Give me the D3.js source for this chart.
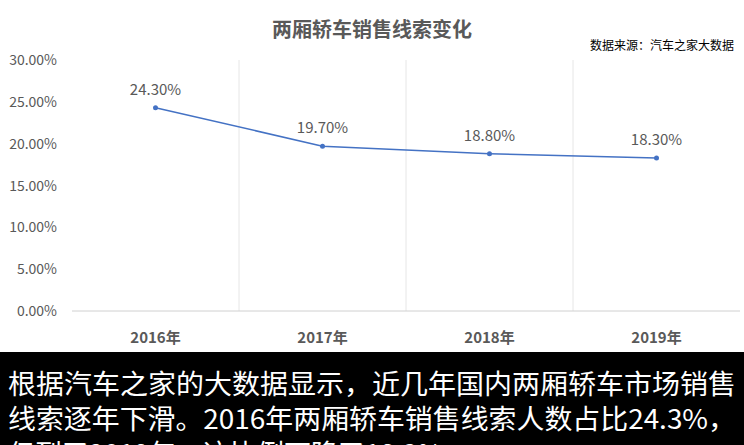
<!DOCTYPE html><html><head><meta charset="utf-8"><script src="https://cdn.jsdelivr.net/npm/d3@7"></script>
<style>body{margin:0;background:#fff;font-family:"Noto Sans CJK SC","Noto Sans",sans-serif}</style></head><body><svg id="c" width="744" height="445"></svg><script>
const categories=["2016年","2017年","2018年","2019年"];
const values=[24.3,19.7,18.8,18.3];
const yTicks=[0,5,10,15,20,25,30];
const captionLines=["根据汽车之家的大数据显示，近几年国内两厢轿车市场销售","线索逐年下滑。2016年两厢轿车销售线索人数占比24.3%，","但到了2019年，这比例下降了18.3%"];
const svg=d3.select("#c");
const x=d3.scaleBand().domain(categories).range([72,740]);
const y=d3.scaleLinear().domain([0,30]).range([311,60]);
const f="'Noto Sans CJK SC',sans-serif";
svg.append("text").attr("x",372).attr("y",37).attr("text-anchor","middle").attr("font-family",f).attr("font-weight","bold").attr("font-size",20).attr("fill","#595959").text("两厢轿车销售线索变化");
svg.append("text").attr("x",734).attr("y",50).attr("text-anchor","end").attr("font-family",f).attr("font-size",12).attr("fill","#000").text("数据来源：汽车之家大数据");
categories.slice(1).forEach(c=>svg.append("line").attr("x1",x(c)).attr("x2",x(c)).attr("y1",60).attr("y2",311).attr("stroke","#e6e6e6"));
svg.append("line").attr("x1",72).attr("x2",740).attr("y1",311).attr("y2",311).attr("stroke","#d0d0d0");
yTicks.forEach(t=>svg.append("text").attr("x",57).attr("y",y(t)+5).attr("text-anchor","end").attr("font-family",f).attr("font-size",14).attr("fill","#595959").text(t.toFixed(2)+"%"));
categories.forEach(c=>svg.append("text").attr("x",x(c)+x.bandwidth()/2).attr("y",343).attr("text-anchor","middle").attr("font-family",f).attr("font-weight","bold").attr("font-size",15).attr("fill","#595959").text(c));
const line=d3.line().x((d,i)=>x(categories[i])+x.bandwidth()/2).y(d=>y(d));
svg.append("path").attr("d",line(values)).attr("fill","none").attr("stroke","#4472c4").attr("stroke-width",1.5);
values.forEach((v,i)=>{const cx=x(categories[i])+x.bandwidth()/2;
svg.append("circle").attr("cx",cx).attr("cy",y(v)).attr("r",2.5).attr("fill","#4472c4");
svg.append("text").attr("x",cx).attr("y",y(v)-13).attr("text-anchor","middle").attr("font-family",f).attr("font-size",15).attr("fill","#595959").text(v.toFixed(2)+"%");});
svg.append("rect").attr("x",0).attr("y",352).attr("width",744).attr("height",93).attr("fill","#000");
captionLines.forEach((t,i)=>svg.append("text").attr("x",8).attr("y",394+i*35).attr("font-family",f).attr("font-size",27).attr("fill","#fff").attr("textLength",i<2?728:null).attr("lengthAdjust","spacingAndGlyphs").text(t));
</script></body></html>
